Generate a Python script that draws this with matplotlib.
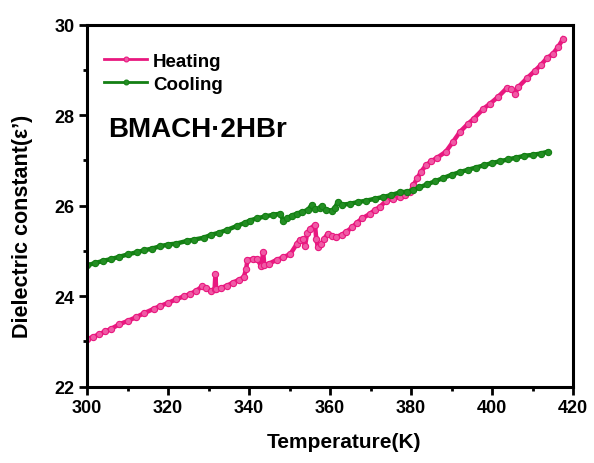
import numpy as np
from matplotlib import pyplot as plt
from matplotlib.ticker import MultipleLocator

plt.rcParams['font.family'] = ['Liberation Sans', 'DejaVu Sans']
plt.rcParams['font.weight'] = 'bold'

# heating run
heat_t = [300.0, 301.5, 303, 304.5, 306, 308, 310, 312, 314, 316.5, 318, 320, 322, 324, 325.5,
          327, 328.5, 329.5, 330.5, 331.5, 331.7, 331.9, 333, 334.6, 336, 337.5, 338.7, 339.3,
          339.6, 341, 342, 343, 343.5, 343.8, 345, 346.8, 348.5, 350.2, 351.8, 352.5, 353.4,
          353.8, 354.4, 355.1, 356.3, 356.6, 357, 357.8, 358.6, 359.4, 360.5, 361.6, 363, 364,
          365.5, 366.6, 368, 369.9, 371, 372.3, 373.9, 375.5, 377.3, 378.5, 379.8, 380.6, 381.5,
          382.5, 383.7, 385, 386.5, 388.6, 390.3, 392.1, 394, 395.5, 397.9, 399.5, 401.5, 403.6,
          404.8, 405.7, 406.5, 408.6, 410.5, 412, 413.5, 415, 416.3, 417.6]
heat_e = [23.05, 23.10, 23.16, 23.22, 23.28, 23.38, 23.45, 23.53, 23.62, 23.72, 23.78, 23.85,
          23.93, 24.00, 24.05, 24.12, 24.22, 24.18, 24.12, 24.15, 24.48, 24.15, 24.18, 24.23,
          24.30, 24.36, 24.42, 24.60, 24.80, 24.82, 24.83, 24.66, 24.97, 24.68, 24.72, 24.80,
          24.86, 24.93, 25.15, 25.25, 25.27, 25.10, 25.40, 25.49, 25.58, 25.27, 25.08, 25.15,
          25.27, 25.38, 25.33, 25.31, 25.36, 25.42, 25.52, 25.62, 25.72, 25.82, 25.90, 25.97,
          26.11, 26.15, 26.19, 26.24, 26.30, 26.45, 26.60, 26.75, 26.89, 26.98, 27.06, 27.19,
          27.40, 27.63, 27.80, 27.92, 28.14, 28.25, 28.40, 28.59, 28.58, 28.47, 28.62, 28.81,
          28.97, 29.10, 29.25, 29.35, 29.50, 29.69]

# cooling run
cool_t = [300.0, 302, 304, 306, 308, 310, 312.3, 314, 316, 318, 320, 322, 324.7, 326.5, 328.8,
          330.5, 332.5, 334.5, 337, 339, 340.2, 342, 344, 346, 347.7, 348.5, 349.5, 350.5, 351.8,
          353, 354.5, 355.5, 356.3, 357.5, 358, 359, 360.4, 361.2, 362, 363, 364.9, 367, 369,
          371, 373.1, 375, 377.2, 379, 380.6, 382, 384, 386, 388, 390, 392.1, 394, 396, 398,
          400, 402, 404, 406, 408, 410, 412, 413.8]
cool_e = [24.68, 24.73, 24.78, 24.82, 24.87, 24.92, 24.97, 25.01, 25.05, 25.10, 25.14, 25.16,
          25.22, 25.25, 25.29, 25.35, 25.40, 25.46, 25.55, 25.62, 25.67, 25.72, 25.76, 25.80,
          25.82, 25.66, 25.72, 25.78, 25.82, 25.86, 25.90, 26.02, 25.92, 25.94, 26.00, 25.91,
          25.89, 25.95, 26.09, 26.02, 26.04, 26.08, 26.11, 26.15, 26.19, 26.23, 26.29, 26.31,
          26.34, 26.40, 26.47, 26.54, 26.61, 26.68, 26.74, 26.79, 26.84, 26.89, 26.94, 26.98,
          27.02, 27.06, 27.10, 27.12, 27.15, 27.19]

heat_color = '#E8187F'
cool_color = '#137F13'

fig = plt.figure(figsize=(5.94, 4.64), dpi=100)
ax = fig.add_axes([87 / 594, 1 - 387.7 / 464, 486 / 594, 362.2 / 464])

ax.plot(heat_t, heat_e, '-o', color=heat_color, lw=3.2, ms=4.5, mfc='#F05AA5', mec=heat_color,
        mew=0.8, label='Heating')
ax.plot(cool_t, cool_e, '-o', color=cool_color, lw=3.2, ms=4.5, mfc='#238E23', mec=cool_color,
        mew=0.8, label='Cooling')

ax.set(xlim=(300, 420), ylim=(22, 30))
ax.xaxis.set_major_locator(MultipleLocator(20))
ax.xaxis.set_minor_locator(MultipleLocator(10))
ax.yaxis.set_major_locator(MultipleLocator(2))
ax.yaxis.set_minor_locator(MultipleLocator(1))
ax.tick_params(which='major', direction='out', length=6, width=2, labelsize=13, pad=3)
ax.tick_params(which='minor', direction='out', length=3, width=2)
for lab in ax.get_xticklabels() + ax.get_yticklabels():
    lab.set_fontweight('bold')
for sp in ax.spines.values():
    sp.set_linewidth(2.2)

ax.set_xlabel('Temperature(K)', fontsize=15, fontweight='bold')
ax.xaxis.set_label_coords(0.528, -0.125)
ax.set_ylabel('Dielectric constant(ε’)', fontsize=15.5, fontweight='bold')
ax.yaxis.set_label_coords(-0.112, 0.446)

leg = ax.legend(loc='upper left', bbox_to_anchor=(0.035, 0.922), frameon=False,
                borderpad=0, borderaxespad=0, numpoints=1, handlelength=2.3,
                handletextpad=0.3, labelspacing=0.3, prop={'size': 13.5, 'weight': 'bold'})
for h in leg.legend_handles:
    h.set_linewidth(2.0)
    h.set_markersize(3.5)

ax.text(21 / 486, (387.7 - 137) / 362.2, 'BMACH·2HBr',
        transform=ax.transAxes, fontsize=20, fontweight='bold', va='baseline', ha='left')

fig.savefig('out.png', dpi=100)
